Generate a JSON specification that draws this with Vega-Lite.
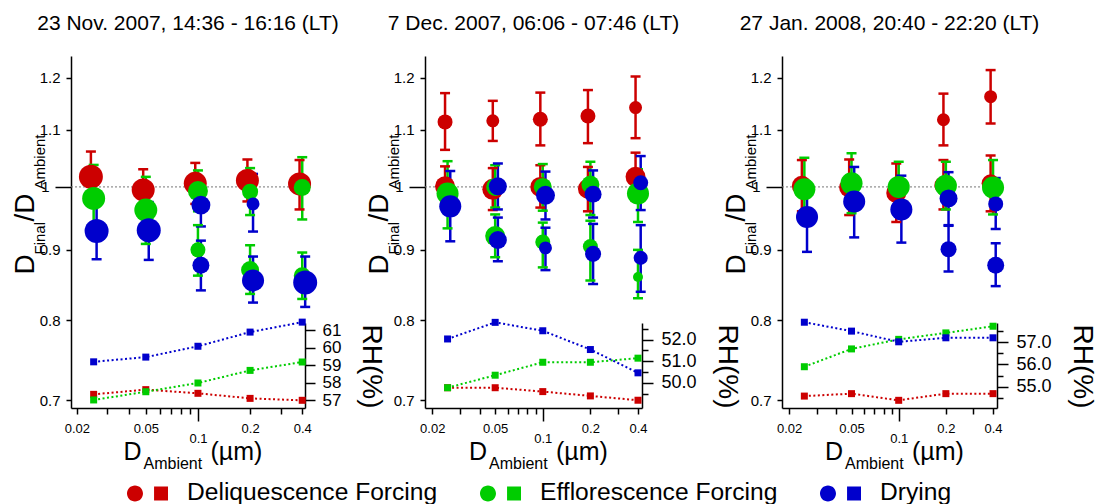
{
"$schema": "https://vega.github.io/schema/vega-lite/v6.json",
"padding": {"left": 11, "top": 13, "right": 5, "bottom": 5},
"background": "white",
"bounds": "flush",
"spacing": 120,
"datasets": {
"dr": [
{"p":1,"s":"Deliquescence Forcing","x":0.0241,"y":1.017,"lo":0.975,"hi":1.061,"f":0.96},
{"p":1,"s":"Deliquescence Forcing","x":0.0483,"y":0.995,"lo":0.961,"hi":1.030,"f":0.88},
{"p":1,"s":"Deliquescence Forcing","x":0.0965,"y":1.006,"lo":0.972,"hi":1.041,"f":0.88},
{"p":1,"s":"Deliquescence Forcing","x":0.193,"y":1.011,"lo":0.976,"hi":1.047,"f":0.88},
{"p":1,"s":"Deliquescence Forcing","x":0.386,"y":1.005,"lo":0.963,"hi":1.046,"f":0.88},
{"p":1,"s":"Efflorescence Forcing","x":0.025,"y":0.981,"lo":0.930,"hi":1.0375,"f":0.88},
{"p":1,"s":"Efflorescence Forcing","x":0.05,"y":0.962,"lo":0.909,"hi":1.017,"f":0.88},
{"p":1,"s":"Efflorescence Forcing","x":0.1,"y":0.993,"lo":0.960,"hi":1.028,"f":0.667},
{"p":1,"s":"Efflorescence Forcing","x":0.1,"y":0.900,"lo":0.862,"hi":0.938,"f":0.375},
{"p":1,"s":"Efflorescence Forcing","x":0.2,"y":0.992,"lo":0.954,"hi":1.032,"f":0.43},
{"p":1,"s":"Efflorescence Forcing","x":0.2,"y":0.870,"lo":0.836,"hi":0.907,"f":0.54},
{"p":1,"s":"Efflorescence Forcing","x":0.4,"y":0.999,"lo":0.947,"hi":1.051,"f":0.48},
{"p":1,"s":"Efflorescence Forcing","x":0.4,"y":0.862,"lo":0.829,"hi":0.896,"f":0.48},
{"p":1,"s":"Drying","x":0.026,"y":0.929,"lo":0.886,"hi":0.974,"f":0.96},
{"p":1,"s":"Drying","x":0.052,"y":0.930,"lo":0.885,"hi":0.975,"f":0.96},
{"p":1,"s":"Drying","x":0.104,"y":0.970,"lo":0.936,"hi":1.005,"f":0.6},
{"p":1,"s":"Drying","x":0.104,"y":0.877,"lo":0.841,"hi":0.914,"f":0.48},
{"p":1,"s":"Drying","x":0.208,"y":0.972,"lo":0.928,"hi":1.022,"f":0.28},
{"p":1,"s":"Drying","x":0.208,"y":0.855,"lo":0.824,"hi":0.890,"f":0.81},
{"p":1,"s":"Drying","x":0.416,"y":0.852,"lo":0.818,"hi":0.890,"f":0.96},
{"p":2,"s":"Deliquescence Forcing","x":0.0241,"y":1.115,"lo":1.064,"hi":1.170,"f":0.375},
{"p":2,"s":"Deliquescence Forcing","x":0.0483,"y":1.117,"lo":1.080,"hi":1.155,"f":0.28},
{"p":2,"s":"Deliquescence Forcing","x":0.0965,"y":1.120,"lo":1.072,"hi":1.171,"f":0.375},
{"p":2,"s":"Deliquescence Forcing","x":0.193,"y":1.126,"lo":1.076,"hi":1.176,"f":0.375},
{"p":2,"s":"Deliquescence Forcing","x":0.386,"y":1.142,"lo":1.085,"hi":1.203,"f":0.28},
{"p":2,"s":"Deliquescence Forcing","x":0.0241,"y":1.001,"lo":0.967,"hi":1.035,"f":0.667},
{"p":2,"s":"Deliquescence Forcing","x":0.0483,"y":0.996,"lo":0.962,"hi":1.032,"f":0.735},
{"p":2,"s":"Deliquescence Forcing","x":0.0965,"y":1.000,"lo":0.966,"hi":1.037,"f":0.667},
{"p":2,"s":"Deliquescence Forcing","x":0.193,"y":0.997,"lo":0.960,"hi":1.034,"f":0.667},
{"p":2,"s":"Deliquescence Forcing","x":0.386,"y":1.017,"lo":0.977,"hi":1.059,"f":0.667},
{"p":2,"s":"Efflorescence Forcing","x":0.025,"y":0.989,"lo":0.933,"hi":1.044,"f":0.81},
{"p":2,"s":"Efflorescence Forcing","x":0.05,"y":1.000,"lo":0.966,"hi":1.037,"f":0.54},
{"p":2,"s":"Efflorescence Forcing","x":0.05,"y":0.921,"lo":0.889,"hi":0.955,"f":0.667},
{"p":2,"s":"Efflorescence Forcing","x":0.1,"y":1.000,"lo":0.961,"hi":1.039,"f":0.54},
{"p":2,"s":"Efflorescence Forcing","x":0.1,"y":0.912,"lo":0.874,"hi":0.942,"f":0.375},
{"p":2,"s":"Efflorescence Forcing","x":0.2,"y":1.004,"lo":0.954,"hi":1.043,"f":0.54},
{"p":2,"s":"Efflorescence Forcing","x":0.2,"y":0.905,"lo":0.855,"hi":0.945,"f":0.375},
{"p":2,"s":"Efflorescence Forcing","x":0.4,"y":0.989,"lo":0.943,"hi":1.030,"f":0.81},
{"p":2,"s":"Efflorescence Forcing","x":0.4,"y":0.860,"lo":0.830,"hi":0.900,"f":0.167},
{"p":2,"s":"Drying","x":0.026,"y":0.968,"lo":0.913,"hi":1.027,"f":0.81},
{"p":2,"s":"Drying","x":0.052,"y":1.001,"lo":0.963,"hi":1.040,"f":0.54},
{"p":2,"s":"Drying","x":0.052,"y":0.915,"lo":0.883,"hi":0.950,"f":0.54},
{"p":2,"s":"Drying","x":0.104,"y":0.986,"lo":0.947,"hi":1.026,"f":0.6},
{"p":2,"s":"Drying","x":0.104,"y":0.903,"lo":0.870,"hi":0.934,"f":0.28},
{"p":2,"s":"Drying","x":0.208,"y":0.988,"lo":0.950,"hi":1.028,"f":0.48},
{"p":2,"s":"Drying","x":0.208,"y":0.894,"lo":0.850,"hi":0.940,"f":0.43},
{"p":2,"s":"Drying","x":0.416,"y":1.007,"lo":0.962,"hi":1.053,"f":0.375},
{"p":2,"s":"Drying","x":0.416,"y":0.888,"lo":0.839,"hi":0.938,"f":0.33},
{"p":3,"s":"Deliquescence Forcing","x":0.0241,"y":1.002,"lo":0.960,"hi":1.046,"f":0.667},
{"p":3,"s":"Deliquescence Forcing","x":0.0483,"y":0.999,"lo":0.954,"hi":1.047,"f":0.667},
{"p":3,"s":"Deliquescence Forcing","x":0.0965,"y":0.990,"lo":0.943,"hi":1.040,"f":0.667},
{"p":3,"s":"Deliquescence Forcing","x":0.193,"y":1.003,"lo":0.963,"hi":1.046,"f":0.54},
{"p":3,"s":"Deliquescence Forcing","x":0.193,"y":1.119,"lo":1.072,"hi":1.169,"f":0.28},
{"p":3,"s":"Deliquescence Forcing","x":0.386,"y":1.006,"lo":0.960,"hi":1.054,"f":0.54},
{"p":3,"s":"Deliquescence Forcing","x":0.386,"y":1.163,"lo":1.112,"hi":1.216,"f":0.28},
{"p":3,"s":"Efflorescence Forcing","x":0.025,"y":0.996,"lo":0.945,"hi":1.050,"f":0.81},
{"p":3,"s":"Efflorescence Forcing","x":0.05,"y":1.006,"lo":0.957,"hi":1.058,"f":0.81},
{"p":3,"s":"Efflorescence Forcing","x":0.1,"y":1.000,"lo":0.960,"hi":1.043,"f":0.81},
{"p":3,"s":"Efflorescence Forcing","x":0.2,"y":1.002,"lo":0.963,"hi":1.043,"f":0.81},
{"p":3,"s":"Efflorescence Forcing","x":0.4,"y":0.999,"lo":0.955,"hi":1.046,"f":0.81},
{"p":3,"s":"Drying","x":0.026,"y":0.951,"lo":0.897,"hi":1.000,"f":0.81},
{"p":3,"s":"Drying","x":0.052,"y":0.976,"lo":0.919,"hi":1.034,"f":0.81},
{"p":3,"s":"Drying","x":0.104,"y":0.963,"lo":0.911,"hi":1.019,"f":0.81},
{"p":3,"s":"Drying","x":0.208,"y":0.981,"lo":0.938,"hi":1.025,"f":0.54},
{"p":3,"s":"Drying","x":0.208,"y":0.901,"lo":0.868,"hi":0.937,"f":0.43},
{"p":3,"s":"Drying","x":0.416,"y":0.972,"lo":0.932,"hi":1.015,"f":0.375},
{"p":3,"s":"Drying","x":0.416,"y":0.877,"lo":0.847,"hi":0.910,"f":0.48}
],
"rh": [
{"p":1,"s":"Deliquescence Forcing","x":0.025,"rh":57.34},
{"p":1,"s":"Deliquescence Forcing","x":0.05,"rh":57.61},
{"p":1,"s":"Deliquescence Forcing","x":0.1,"rh":57.40},
{"p":1,"s":"Deliquescence Forcing","x":0.2,"rh":57.11},
{"p":1,"s":"Deliquescence Forcing","x":0.4,"rh":57.00},
{"p":1,"s":"Efflorescence Forcing","x":0.025,"rh":57.02},
{"p":1,"s":"Efflorescence Forcing","x":0.05,"rh":57.49},
{"p":1,"s":"Efflorescence Forcing","x":0.1,"rh":57.99},
{"p":1,"s":"Efflorescence Forcing","x":0.2,"rh":58.71},
{"p":1,"s":"Efflorescence Forcing","x":0.4,"rh":59.19},
{"p":1,"s":"Drying","x":0.025,"rh":59.20},
{"p":1,"s":"Drying","x":0.05,"rh":59.47},
{"p":1,"s":"Drying","x":0.1,"rh":60.09},
{"p":1,"s":"Drying","x":0.2,"rh":60.90},
{"p":1,"s":"Drying","x":0.4,"rh":61.47},
{"p":2,"s":"Deliquescence Forcing","x":0.025,"rh":49.77},
{"p":2,"s":"Deliquescence Forcing","x":0.05,"rh":49.77},
{"p":2,"s":"Deliquescence Forcing","x":0.1,"rh":49.59},
{"p":2,"s":"Deliquescence Forcing","x":0.2,"rh":49.39},
{"p":2,"s":"Deliquescence Forcing","x":0.4,"rh":49.19},
{"p":2,"s":"Efflorescence Forcing","x":0.025,"rh":49.77},
{"p":2,"s":"Efflorescence Forcing","x":0.05,"rh":50.35},
{"p":2,"s":"Efflorescence Forcing","x":0.1,"rh":50.95},
{"p":2,"s":"Efflorescence Forcing","x":0.2,"rh":50.95},
{"p":2,"s":"Efflorescence Forcing","x":0.4,"rh":51.14},
{"p":2,"s":"Drying","x":0.025,"rh":52.03},
{"p":2,"s":"Drying","x":0.05,"rh":52.80},
{"p":2,"s":"Drying","x":0.1,"rh":52.41},
{"p":2,"s":"Drying","x":0.2,"rh":51.54},
{"p":2,"s":"Drying","x":0.4,"rh":50.46},
{"p":3,"s":"Deliquescence Forcing","x":0.025,"rh":54.58},
{"p":3,"s":"Deliquescence Forcing","x":0.05,"rh":54.69},
{"p":3,"s":"Deliquescence Forcing","x":0.1,"rh":54.39},
{"p":3,"s":"Deliquescence Forcing","x":0.2,"rh":54.69},
{"p":3,"s":"Deliquescence Forcing","x":0.4,"rh":54.69},
{"p":3,"s":"Efflorescence Forcing","x":0.025,"rh":55.90},
{"p":3,"s":"Efflorescence Forcing","x":0.05,"rh":56.70},
{"p":3,"s":"Efflorescence Forcing","x":0.1,"rh":57.13},
{"p":3,"s":"Efflorescence Forcing","x":0.2,"rh":57.42},
{"p":3,"s":"Efflorescence Forcing","x":0.4,"rh":57.72},
{"p":3,"s":"Drying","x":0.025,"rh":57.90},
{"p":3,"s":"Drying","x":0.05,"rh":57.50},
{"p":3,"s":"Drying","x":0.1,"rh":57.02},
{"p":3,"s":"Drying","x":0.2,"rh":57.20},
{"p":3,"s":"Drying","x":0.4,"rh":57.20}
]
},
"hconcat": [
{
"width": 234, "height": 352,
"title": {"text": "23 Nov. 2007, 14:36 - 16:16 (LT)", "fontSize": 21, "fontWeight": "normal", "frame": "group", "anchor": "middle", "baseline": "alphabetic", "offset": 5, "color": "#000"},
"resolve": {"scale": {"y": "independent"}, "axis": {"x": "independent", "y": "independent"}},
"layer": [
{"data": {"values": [{}]},
 "mark": {"type": "rule", "color": "#777777", "strokeDash": [2, 2], "strokeWidth": 1},
 "encoding": {
  "x": {"datum": 0.0185, "type": "quantitative", "scale": {"type": "log", "domain": [0.0185, 0.415], "nice": false, "zero": false},
   "axis": {"orient": "bottom", "values": [0.02,0.03,0.04,0.05,0.06,0.07,0.08,0.09,0.1,0.2,0.3,0.4], "labelExpr": "(datum.value == 0.02 || datum.value == 0.05 || datum.value == 0.1 || datum.value == 0.2 || datum.value == 0.4) ? '' + datum.value : ''", "labelFlush": false, "labelOverlap": false, "labelFontSize": 13, "tickSize": {"condition": {"test": "datum.value == 0.1", "value": 13}, "value": 6}, "labelPadding": {"condition": {"test": "datum.value == 0.1", "value": 11}, "value": 8}, "title": "D", "titleFontSize": 25, "titleX": 52, "titleY": 51, "titleAlign": "left", "titleBaseline": "alphabetic", "titleAngle": 0}},
  "x2": {"datum": 0.415},
  "y": {"datum": 1, "type": "quantitative", "scale": {"type": "log", "domain": [0.6907, 1.245], "nice": false, "zero": false},
   "axis": {"orient": "left", "values": [0.7,0.8,0.9,1,1.1,1.2], "labelExpr": "datum.value == 1 ? '1' : format(datum.value, '.1f')", "labelFontSize": 15, "labelOverlap": false, "labelFlush": false, "tickSize": {"condition": {"test": "datum.value == 1", "value": 16}, "value": 5}, "labelPadding": 6, "title": "D", "titleFontSize": 28, "titleAngle": 270, "titleAlign": "left", "titleBaseline": "alphabetic", "titleX": -38, "titleY": 218}}
 }},
{"data": {"name": "dr"}, "transform": [{"filter": "datum.p == 1"}],
 "mark": {"type": "rule", "strokeWidth": 2.5},
 "encoding": {
  "x": {"field": "x", "type": "quantitative", "scale": {"type": "log", "domain": [0.0185, 0.415], "nice": false, "zero": false},
   "axis": {"orient": "bottom", "domain": false, "ticks": false, "labels": false, "grid": false, "title": "Ambient", "titleFontSize": 16, "titleX": 72, "titleY": 60, "titleAlign": "left", "titleBaseline": "alphabetic", "titleAngle": 0}},
  "y": {"field": "lo", "type": "quantitative", "scale": {"type": "log", "domain": [0.6907, 1.245], "nice": false, "zero": false},
   "axis": {"orient": "left", "domain": false, "ticks": false, "labels": false, "grid": false, "title": "Final", "titleFontSize": 15, "titleAngle": 270, "titleAlign": "left", "titleBaseline": "alphabetic", "titleX": -27, "titleY": 198}},
  "y2": {"field": "hi"},
  "stroke": {"field": "s", "type": "nominal", "scale": {"domain": ["Drying", "Deliquescence Forcing", "Efflorescence Forcing"], "range": ["#0000cc", "#cc0000", "#00cc00"]}, "legend": null}
 }},
{"data": {"name": "dr"}, "transform": [{"filter": "datum.p == 1"}],
 "mark": {"type": "tick", "orient": "horizontal", "size": 10, "thickness": 2.5, "opacity": 1},
 "encoding": {
  "x": {"field": "x", "type": "quantitative", "scale": {"type": "log", "domain": [0.0185, 0.415], "nice": false, "zero": false},
   "axis": {"orient": "bottom", "domain": false, "ticks": false, "labels": false, "grid": false, "title": "(µm)", "titleFontSize": 25, "titleX": 139, "titleY": 51, "titleAlign": "left", "titleBaseline": "alphabetic", "titleAngle": 0}},
  "y": {"field": "lo", "type": "quantitative", "scale": {"type": "log", "domain": [0.6907, 1.245], "nice": false, "zero": false},
   "axis": {"orient": "left", "domain": false, "ticks": false, "labels": false, "grid": false, "title": "/D", "titleFontSize": 28, "titleAngle": 270, "titleAlign": "left", "titleBaseline": "alphabetic", "titleX": -38, "titleY": 165}},
  "fill": {"field": "s", "type": "nominal", "scale": {"domain": ["Drying", "Deliquescence Forcing", "Efflorescence Forcing"], "range": ["#0000cc", "#cc0000", "#00cc00"]}, "legend": null}
 }},
{"data": {"name": "dr"}, "transform": [{"filter": "datum.p == 1"}],
 "mark": {"type": "tick", "orient": "horizontal", "size": 10, "thickness": 2.5, "opacity": 1},
 "encoding": {
  "x": {"field": "x", "type": "quantitative", "scale": {"type": "log", "domain": [0.0185, 0.415], "nice": false, "zero": false}, "axis": null},
  "y": {"field": "hi", "type": "quantitative", "scale": {"type": "log", "domain": [0.6907, 1.245], "nice": false, "zero": false},
   "axis": {"orient": "left", "domain": false, "ticks": false, "labels": false, "grid": false, "title": "Ambient", "titleFontSize": 15, "titleAngle": 270, "titleAlign": "left", "titleBaseline": "alphabetic", "titleX": -27, "titleY": 133}},
  "fill": {"field": "s", "type": "nominal", "scale": {"domain": ["Drying", "Deliquescence Forcing", "Efflorescence Forcing"], "range": ["#0000cc", "#cc0000", "#00cc00"]}, "legend": null}
 }},
{"data": {"name": "dr"}, "transform": [{"filter": "datum.p == 1"}],
 "mark": {"type": "point", "shape": "circle", "filled": true, "opacity": 1, "strokeWidth": 0},
 "encoding": {
  "x": {"field": "x", "type": "quantitative", "scale": {"type": "log", "domain": [0.0185, 0.415], "nice": false, "zero": false}, "axis": null},
  "y": {"field": "y", "type": "quantitative", "scale": {"type": "log", "domain": [0.6907, 1.245], "nice": false, "zero": false}, "axis": null},
  "size": {"field": "f", "type": "quantitative", "scale": {"type": "linear", "domain": [0, 1], "range": [0, 600], "zero": true}, "legend": null},
  "color": {"field": "s", "type": "nominal", "scale": {"domain": ["Deliquescence Forcing", "Efflorescence Forcing", "Drying"], "range": ["#cc0000", "#00cc00", "#0000cc"]},
   "legend": {"orient": "none", "legendX": 56, "legendY": 416.5, "direction": "horizontal", "title": null, "symbolType": "M-1,0A0.39,0.39,0,1,1,-0.22,0A0.39,0.39,0,1,1,-1,0ZM0.32,-0.34L1,-0.34L1,0.34L0.32,0.34Z", "symbolSize": 1681, "symbolStrokeWidth": 0, "symbolOpacity": 1, "labelFontSize": 24.6, "labelOffset": 19, "labelLimit": 500, "columnPadding": 41, "padding": 0, "labelColor": "#000"}}
 }},
{"data": {"name": "rh"}, "transform": [{"filter": "datum.p == 1"}],
 "encoding": {
  "x": {"field": "x", "type": "quantitative", "scale": {"type": "log", "domain": [0.0185, 0.415], "nice": false, "zero": false}, "axis": null},
  "y": {"field": "rh", "type": "quantitative", "scale": {"domain": [56.56, 61.42], "range": [352, 267], "nice": false, "zero": false},
   "axis": {"orient": "right", "values": [57,58,59,60,61], "format": "d", "tickSize": 10, "labelPadding": 7, "labelFontSize": 17, "labelOverlap": false, "labelFlush": false, "grid": false, "title": "RH(%)", "titleFontSize": 28, "titleAngle": 90, "titleAlign": "left", "titleBaseline": "alphabetic", "titleX": 57, "titleY": 268}}
 },
 "layer": [
  {"mark": {"type": "line", "strokeDash": [2, 2.5], "strokeWidth": 2},
   "encoding": {"stroke": {"field": "s", "type": "nominal", "scale": {"domain": ["Drying", "Deliquescence Forcing", "Efflorescence Forcing"], "range": ["#0000cc", "#cc0000", "#00cc00"]}, "legend": null}}},
  {"mark": {"type": "point", "shape": "square", "filled": true, "size": 49, "opacity": 1, "strokeWidth": 0},
   "encoding": {"fill": {"field": "s", "type": "nominal", "scale": {"domain": ["Drying", "Deliquescence Forcing", "Efflorescence Forcing"], "range": ["#0000cc", "#cc0000", "#00cc00"]}, "legend": null}}}
 ]}
]
},
{
"width": 237, "height": 352,
"title": {"text": "7 Dec. 2007, 06:06 - 07:46 (LT)", "fontSize": 21, "fontWeight": "normal", "frame": "group", "anchor": "middle", "baseline": "alphabetic", "offset": 5, "dx": -10, "color": "#000"},
"resolve": {"scale": {"y": "independent"}, "axis": {"x": "independent", "y": "independent"}},
"layer": [
{"data": {"values": [{}]},
 "mark": {"type": "rule", "color": "#777777", "strokeDash": [2, 2], "strokeWidth": 1},
 "encoding": {
  "x": {"datum": 0.018, "type": "quantitative", "scale": {"type": "log", "domain": [0.018, 0.424], "range": [0, 217], "nice": false, "zero": false},
   "axis": {"orient": "bottom", "values": [0.02,0.03,0.04,0.05,0.06,0.07,0.08,0.09,0.1,0.2,0.3,0.4], "labelExpr": "(datum.value == 0.02 || datum.value == 0.05 || datum.value == 0.1 || datum.value == 0.2 || datum.value == 0.4) ? '' + datum.value : ''", "labelFlush": false, "labelOverlap": false, "labelFontSize": 13, "tickSize": {"condition": {"test": "datum.value == 0.1", "value": 13}, "value": 6}, "labelPadding": {"condition": {"test": "datum.value == 0.1", "value": 11}, "value": 8}, "title": "D", "titleFontSize": 25, "titleX": 43.5, "titleY": 51, "titleAlign": "left", "titleBaseline": "alphabetic", "titleAngle": 0}},
  "x2": {"datum": 0.424},
  "y": {"datum": 1, "type": "quantitative", "scale": {"type": "log", "domain": [0.6907, 1.245], "nice": false, "zero": false},
   "axis": {"orient": "left", "values": [0.7,0.8,0.9,1,1.1,1.2], "labelExpr": "datum.value == 1 ? '1' : format(datum.value, '.1f')", "labelFontSize": 15, "labelOverlap": false, "labelFlush": false, "tickSize": {"condition": {"test": "datum.value == 1", "value": 16}, "value": 5}, "labelPadding": 6, "title": "D", "titleFontSize": 28, "titleAngle": 270, "titleAlign": "left", "titleBaseline": "alphabetic", "titleX": -38, "titleY": 218}}
 }},
{"data": {"name": "dr"}, "transform": [{"filter": "datum.p == 2"}],
 "mark": {"type": "rule", "strokeWidth": 2.5},
 "encoding": {
  "x": {"field": "x", "type": "quantitative", "scale": {"type": "log", "domain": [0.018, 0.424], "range": [0, 217], "nice": false, "zero": false},
   "axis": {"orient": "bottom", "domain": false, "ticks": false, "labels": false, "grid": false, "title": "Ambient", "titleFontSize": 16, "titleX": 63.5, "titleY": 60, "titleAlign": "left", "titleBaseline": "alphabetic", "titleAngle": 0}},
  "y": {"field": "lo", "type": "quantitative", "scale": {"type": "log", "domain": [0.6907, 1.245], "nice": false, "zero": false},
   "axis": {"orient": "left", "domain": false, "ticks": false, "labels": false, "grid": false, "title": "Final", "titleFontSize": 15, "titleAngle": 270, "titleAlign": "left", "titleBaseline": "alphabetic", "titleX": -27, "titleY": 198}},
  "y2": {"field": "hi"},
  "stroke": {"field": "s", "type": "nominal", "scale": {"domain": ["Drying", "Deliquescence Forcing", "Efflorescence Forcing"], "range": ["#0000cc", "#cc0000", "#00cc00"]}, "legend": null}
 }},
{"data": {"name": "dr"}, "transform": [{"filter": "datum.p == 2"}],
 "mark": {"type": "tick", "orient": "horizontal", "size": 10, "thickness": 2.5, "opacity": 1},
 "encoding": {
  "x": {"field": "x", "type": "quantitative", "scale": {"type": "log", "domain": [0.018, 0.424], "range": [0, 217], "nice": false, "zero": false},
   "axis": {"orient": "bottom", "domain": false, "ticks": false, "labels": false, "grid": false, "title": "(µm)", "titleFontSize": 25, "titleX": 130.5, "titleY": 51, "titleAlign": "left", "titleBaseline": "alphabetic", "titleAngle": 0}},
  "y": {"field": "lo", "type": "quantitative", "scale": {"type": "log", "domain": [0.6907, 1.245], "nice": false, "zero": false},
   "axis": {"orient": "left", "domain": false, "ticks": false, "labels": false, "grid": false, "title": "/D", "titleFontSize": 28, "titleAngle": 270, "titleAlign": "left", "titleBaseline": "alphabetic", "titleX": -38, "titleY": 165}},
  "fill": {"field": "s", "type": "nominal", "scale": {"domain": ["Drying", "Deliquescence Forcing", "Efflorescence Forcing"], "range": ["#0000cc", "#cc0000", "#00cc00"]}, "legend": null}
 }},
{"data": {"name": "dr"}, "transform": [{"filter": "datum.p == 2"}],
 "mark": {"type": "tick", "orient": "horizontal", "size": 10, "thickness": 2.5, "opacity": 1},
 "encoding": {
  "x": {"field": "x", "type": "quantitative", "scale": {"type": "log", "domain": [0.018, 0.424], "range": [0, 217], "nice": false, "zero": false}, "axis": null},
  "y": {"field": "hi", "type": "quantitative", "scale": {"type": "log", "domain": [0.6907, 1.245], "nice": false, "zero": false},
   "axis": {"orient": "left", "domain": false, "ticks": false, "labels": false, "grid": false, "title": "Ambient", "titleFontSize": 15, "titleAngle": 270, "titleAlign": "left", "titleBaseline": "alphabetic", "titleX": -27, "titleY": 133}},
  "fill": {"field": "s", "type": "nominal", "scale": {"domain": ["Drying", "Deliquescence Forcing", "Efflorescence Forcing"], "range": ["#0000cc", "#cc0000", "#00cc00"]}, "legend": null}
 }},
{"data": {"name": "dr"}, "transform": [{"filter": "datum.p == 2"}],
 "mark": {"type": "point", "shape": "circle", "filled": true, "opacity": 1, "strokeWidth": 0},
 "encoding": {
  "x": {"field": "x", "type": "quantitative", "scale": {"type": "log", "domain": [0.018, 0.424], "range": [0, 217], "nice": false, "zero": false}, "axis": null},
  "y": {"field": "y", "type": "quantitative", "scale": {"type": "log", "domain": [0.6907, 1.245], "nice": false, "zero": false}, "axis": null},
  "size": {"field": "f", "type": "quantitative", "scale": {"type": "linear", "domain": [0, 1], "range": [0, 600], "zero": true}, "legend": null},
  "color": {"field": "s", "type": "nominal", "scale": {"domain": ["Deliquescence Forcing", "Efflorescence Forcing", "Drying"], "range": ["#cc0000", "#00cc00", "#0000cc"]},
   "legend": {"orient": "none", "legendX": 56, "legendY": 416.5, "direction": "horizontal", "title": null, "symbolType": "M-1,0A0.39,0.39,0,1,1,-0.22,0A0.39,0.39,0,1,1,-1,0ZM0.32,-0.34L1,-0.34L1,0.34L0.32,0.34Z", "symbolSize": 1681, "symbolStrokeWidth": 0, "symbolOpacity": 1, "labelFontSize": 24.6, "labelOffset": 19, "labelLimit": 500, "columnPadding": 41, "padding": 0, "labelColor": "#000"}}
 }},
{"data": {"name": "rh"}, "transform": [{"filter": "datum.p == 2"}],
 "encoding": {
  "x": {"field": "x", "type": "quantitative", "scale": {"type": "log", "domain": [0.018, 0.424], "range": [0, 217], "nice": false, "zero": false}, "axis": null},
  "y": {"field": "rh", "type": "quantitative", "scale": {"domain": [48.83, 52.77], "range": [352, 267], "nice": false, "zero": false},
   "axis": {"orient": "right", "offset": -20, "values": [49.5,50,50.5,51,51.5,52,52.5], "labelExpr": "datum.value % 1 == 0 ? format(datum.value, '.1f') : ''", "tickSize": {"condition": {"test": "datum.value % 1 == 0", "value": 11}, "value": 6}, "labelPadding": 8, "labelFontSize": 18, "labelOverlap": false, "labelFlush": false, "grid": false, "title": "RH(%)", "titleFontSize": 28, "titleAngle": 90, "titleAlign": "left", "titleBaseline": "alphabetic", "titleX": 76, "titleY": 268}}
 },
 "layer": [
  {"mark": {"type": "line", "strokeDash": [2, 2.5], "strokeWidth": 2},
   "encoding": {"stroke": {"field": "s", "type": "nominal", "scale": {"domain": ["Drying", "Deliquescence Forcing", "Efflorescence Forcing"], "range": ["#0000cc", "#cc0000", "#00cc00"]}, "legend": null}}},
  {"mark": {"type": "point", "shape": "square", "filled": true, "size": 49, "opacity": 1, "strokeWidth": 0},
   "encoding": {"fill": {"field": "s", "type": "nominal", "scale": {"domain": ["Drying", "Deliquescence Forcing", "Efflorescence Forcing"], "range": ["#0000cc", "#cc0000", "#00cc00"]}, "legend": null}}}
 ]}
]
},
{
"width": 215, "height": 352,
"title": {"text": "27 Jan. 2008, 20:40 - 22:20 (LT)", "fontSize": 21, "fontWeight": "normal", "frame": "group", "anchor": "middle", "baseline": "alphabetic", "offset": 5, "color": "#000"},
"resolve": {"scale": {"y": "independent"}, "axis": {"x": "independent", "y": "independent"}},
"layer": [
{"data": {"values": [{}]},
 "mark": {"type": "rule", "color": "#777777", "strokeDash": [2, 2], "strokeWidth": 1},
 "encoding": {
  "x": {"datum": 0.018, "type": "quantitative", "scale": {"type": "log", "domain": [0.018, 0.424], "nice": false, "zero": false},
   "axis": {"orient": "bottom", "values": [0.02,0.03,0.04,0.05,0.06,0.07,0.08,0.09,0.1,0.2,0.3,0.4], "labelExpr": "(datum.value == 0.02 || datum.value == 0.05 || datum.value == 0.1 || datum.value == 0.2 || datum.value == 0.4) ? '' + datum.value : ''", "labelFlush": false, "labelOverlap": false, "labelFontSize": 13, "tickSize": {"condition": {"test": "datum.value == 0.1", "value": 13}, "value": 6}, "labelPadding": {"condition": {"test": "datum.value == 0.1", "value": 11}, "value": 8}, "title": "D", "titleFontSize": 25, "titleX": 42.5, "titleY": 51, "titleAlign": "left", "titleBaseline": "alphabetic", "titleAngle": 0}},
  "x2": {"datum": 0.424},
  "y": {"datum": 1, "type": "quantitative", "scale": {"type": "log", "domain": [0.6907, 1.245], "nice": false, "zero": false},
   "axis": {"orient": "left", "values": [0.7,0.8,0.9,1,1.1,1.2], "labelExpr": "datum.value == 1 ? '1' : format(datum.value, '.1f')", "labelFontSize": 15, "labelOverlap": false, "labelFlush": false, "tickSize": {"condition": {"test": "datum.value == 1", "value": 16}, "value": 5}, "labelPadding": 6, "title": "D", "titleFontSize": 28, "titleAngle": 270, "titleAlign": "left", "titleBaseline": "alphabetic", "titleX": -38, "titleY": 218}}
 }},
{"data": {"name": "dr"}, "transform": [{"filter": "datum.p == 3"}],
 "mark": {"type": "rule", "strokeWidth": 2.5},
 "encoding": {
  "x": {"field": "x", "type": "quantitative", "scale": {"type": "log", "domain": [0.018, 0.424], "nice": false, "zero": false},
   "axis": {"orient": "bottom", "domain": false, "ticks": false, "labels": false, "grid": false, "title": "Ambient", "titleFontSize": 16, "titleX": 62.5, "titleY": 60, "titleAlign": "left", "titleBaseline": "alphabetic", "titleAngle": 0}},
  "y": {"field": "lo", "type": "quantitative", "scale": {"type": "log", "domain": [0.6907, 1.245], "nice": false, "zero": false},
   "axis": {"orient": "left", "domain": false, "ticks": false, "labels": false, "grid": false, "title": "Final", "titleFontSize": 15, "titleAngle": 270, "titleAlign": "left", "titleBaseline": "alphabetic", "titleX": -27, "titleY": 198}},
  "y2": {"field": "hi"},
  "stroke": {"field": "s", "type": "nominal", "scale": {"domain": ["Drying", "Deliquescence Forcing", "Efflorescence Forcing"], "range": ["#0000cc", "#cc0000", "#00cc00"]}, "legend": null}
 }},
{"data": {"name": "dr"}, "transform": [{"filter": "datum.p == 3"}],
 "mark": {"type": "tick", "orient": "horizontal", "size": 10, "thickness": 2.5, "opacity": 1},
 "encoding": {
  "x": {"field": "x", "type": "quantitative", "scale": {"type": "log", "domain": [0.018, 0.424], "nice": false, "zero": false},
   "axis": {"orient": "bottom", "domain": false, "ticks": false, "labels": false, "grid": false, "title": "(µm)", "titleFontSize": 25, "titleX": 129.5, "titleY": 51, "titleAlign": "left", "titleBaseline": "alphabetic", "titleAngle": 0}},
  "y": {"field": "lo", "type": "quantitative", "scale": {"type": "log", "domain": [0.6907, 1.245], "nice": false, "zero": false},
   "axis": {"orient": "left", "domain": false, "ticks": false, "labels": false, "grid": false, "title": "/D", "titleFontSize": 28, "titleAngle": 270, "titleAlign": "left", "titleBaseline": "alphabetic", "titleX": -38, "titleY": 165}},
  "fill": {"field": "s", "type": "nominal", "scale": {"domain": ["Drying", "Deliquescence Forcing", "Efflorescence Forcing"], "range": ["#0000cc", "#cc0000", "#00cc00"]}, "legend": null}
 }},
{"data": {"name": "dr"}, "transform": [{"filter": "datum.p == 3"}],
 "mark": {"type": "tick", "orient": "horizontal", "size": 10, "thickness": 2.5, "opacity": 1},
 "encoding": {
  "x": {"field": "x", "type": "quantitative", "scale": {"type": "log", "domain": [0.018, 0.424], "nice": false, "zero": false}, "axis": null},
  "y": {"field": "hi", "type": "quantitative", "scale": {"type": "log", "domain": [0.6907, 1.245], "nice": false, "zero": false},
   "axis": {"orient": "left", "domain": false, "ticks": false, "labels": false, "grid": false, "title": "Ambient", "titleFontSize": 15, "titleAngle": 270, "titleAlign": "left", "titleBaseline": "alphabetic", "titleX": -27, "titleY": 133}},
  "fill": {"field": "s", "type": "nominal", "scale": {"domain": ["Drying", "Deliquescence Forcing", "Efflorescence Forcing"], "range": ["#0000cc", "#cc0000", "#00cc00"]}, "legend": null}
 }},
{"data": {"name": "dr"}, "transform": [{"filter": "datum.p == 3"}],
 "mark": {"type": "point", "shape": "circle", "filled": true, "opacity": 1, "strokeWidth": 0},
 "encoding": {
  "x": {"field": "x", "type": "quantitative", "scale": {"type": "log", "domain": [0.018, 0.424], "nice": false, "zero": false}, "axis": null},
  "y": {"field": "y", "type": "quantitative", "scale": {"type": "log", "domain": [0.6907, 1.245], "nice": false, "zero": false}, "axis": null},
  "size": {"field": "f", "type": "quantitative", "scale": {"type": "linear", "domain": [0, 1], "range": [0, 600], "zero": true}, "legend": null},
  "color": {"field": "s", "type": "nominal", "scale": {"domain": ["Deliquescence Forcing", "Efflorescence Forcing", "Drying"], "range": ["#cc0000", "#00cc00", "#0000cc"]},
   "legend": {"orient": "none", "legendX": 56, "legendY": 416.5, "direction": "horizontal", "title": null, "symbolType": "M-1,0A0.39,0.39,0,1,1,-0.22,0A0.39,0.39,0,1,1,-1,0ZM0.32,-0.34L1,-0.34L1,0.34L0.32,0.34Z", "symbolSize": 1681, "symbolStrokeWidth": 0, "symbolOpacity": 1, "labelFontSize": 24.6, "labelOffset": 19, "labelLimit": 500, "columnPadding": 41, "padding": 0, "labelColor": "#000"}}
 }},
{"data": {"name": "rh"}, "transform": [{"filter": "datum.p == 3"}],
 "encoding": {
  "x": {"field": "x", "type": "quantitative", "scale": {"type": "log", "domain": [0.018, 0.424], "nice": false, "zero": false}, "axis": null},
  "y": {"field": "rh", "type": "quantitative", "scale": {"domain": [54.045, 57.865], "range": [352, 267], "nice": false, "zero": false},
   "axis": {"orient": "right", "values": [54.5,55,55.5,56,56.5,57,57.5], "labelExpr": "datum.value % 1 == 0 ? format(datum.value, '.1f') : ''", "tickSize": {"condition": {"test": "datum.value % 1 == 0", "value": 11}, "value": 6}, "labelPadding": 8, "labelFontSize": 18, "labelOverlap": false, "labelFlush": false, "grid": false, "title": "RH(%)", "titleFontSize": 28, "titleAngle": 90, "titleAlign": "left", "titleBaseline": "alphabetic", "titleX": 76, "titleY": 268}}
 },
 "layer": [
  {"mark": {"type": "line", "strokeDash": [2, 2.5], "strokeWidth": 2},
   "encoding": {"stroke": {"field": "s", "type": "nominal", "scale": {"domain": ["Drying", "Deliquescence Forcing", "Efflorescence Forcing"], "range": ["#0000cc", "#cc0000", "#00cc00"]}, "legend": null}}},
  {"mark": {"type": "point", "shape": "square", "filled": true, "size": 49, "opacity": 1, "strokeWidth": 0},
   "encoding": {"fill": {"field": "s", "type": "nominal", "scale": {"domain": ["Drying", "Deliquescence Forcing", "Efflorescence Forcing"], "range": ["#0000cc", "#cc0000", "#00cc00"]}, "legend": null}}}
 ]}
]
}
],
"config": {
 "font": "Liberation Sans",
 "view": {"stroke": null},
 "axis": {"grid": false, "domainColor": "#000", "tickColor": "#000", "labelColor": "#000", "titleColor": "#000", "titleFontWeight": "normal", "domainWidth": 1.5, "tickWidth": 1.5, "labelFont": "Liberation Sans", "titleFont": "Liberation Sans"},
 "legend": {"labelFont": "Liberation Sans"}
}
}
